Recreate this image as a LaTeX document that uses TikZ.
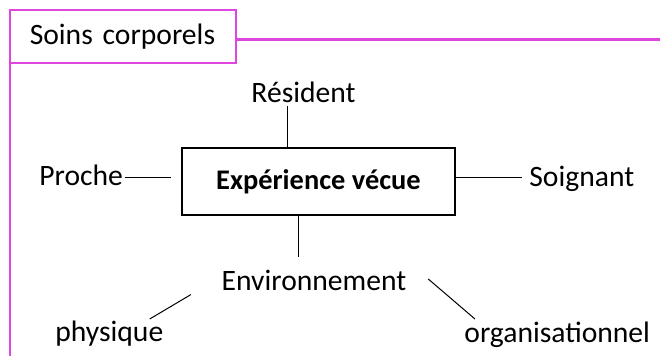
\documentclass[tikz,border=0pt]{standalone}
\usepackage{fontspec}
\setmainfont{Carlito}
\usepackage{tikz}
\usetikzlibrary{positioning, calc}
\definecolor{framepink}{RGB}{222,70,222}
\tikzset{
  word/.style={inner sep=1pt, font=\fontsize{14.8pt}{17pt}\selectfont},
  link/.style={line width=0.5pt},
  frameline/.style={draw=framepink, line width=1.1pt}
}

\begin{document}
\begin{tikzpicture}[x=0.5pt, y=-0.5pt]
    \useasboundingbox (0,0) rectangle (660,356);
    % Frame with title
    \node (title) [word, anchor=west, draw=framepink, line width=0.75pt, minimum height=26.5pt, text width=93pt, inner xsep=10pt, align=left] at (9,36.5) {Soins corporels};
    \coordinate (frameR) at (660,39.5);
    \coordinate (frameB) at (10,356);
    \draw [frameline] (title.east |- frameR) -- (frameR);
    \draw [frameline] (title.south west -| frameB) -- (frameB);
    % Central box
    \node (exp) [word, draw, line width=0.7pt, minimum width=136.5pt, minimum height=33.5pt, font=\fontsize{14.2pt}{17pt}\selectfont\bfseries] at (318.5,181.5) {Expérience vécue};
    % Actors around it
    \node (res) [word, anchor=base] at (303.5,103) {Résident};
    \node (pro) [word, anchor=base west] at (37,186) {Proche};
    \node (soi) [word, anchor=base west] at (527,187) {Soignant};
    \node (env) [word, anchor=base] at (314,291) {Environnement};
    \node (phy) [word, anchor=base west] at (53,342) {physique};
    \node (org) [word, anchor=base west] at (462,343) {organisationnel};
    % Links
    \draw [link] (exp.north -| 287,0) -- (res.south -| 287,0);
    \draw [link] (exp.south -| 298,0) -- ($(env.north -| 298,0)+(0,-11)$);
    \draw [link] ($(pro.east |- 0,178)+(0,0)$) -- ($(exp.west |- 0,178)+(-10,0)$);
    \draw [link] (exp.east |- 0,178) -- ($(soi.west |- 0,178)+(-5,0)$);
    \draw [link] ($(env.south west)+(-28.5,1)$) -- ($(phy.north east)+(-16,0)$);
    \draw [link] ($(env.east)+(19.5,-2)$) -- ($(org.north west)+(13,-1)$);
\end{tikzpicture}
\end{document}
